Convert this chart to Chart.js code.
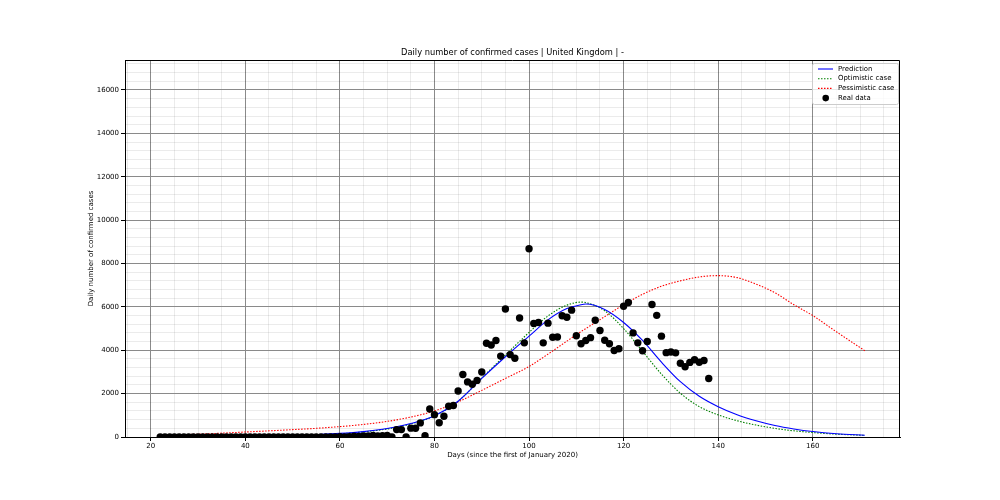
<!DOCTYPE html>
<html>
<head>
<meta charset="utf-8">
<script src="https://cdn.jsdelivr.net/npm/chart.js@4.4.0/dist/chart.umd.min.js"></script>
<style>
    body { margin: 0; background: #fff; }
    #chart { display: block; }
</style>
</head>
<body>
<canvas id="chart" width="1000" height="500"></canvas>
<script>
var chartTitle = 'Daily number of confirmed cases | United Kingdom | -';
var xTitle = 'Days (since the first of January 2020)';
var yTitle = 'Daily number of confirmed cases';

var xTicks = [20, 40, 60, 80, 100, 120, 140, 160];
var yTicks = [0, 2000, 4000, 6000, 8000, 10000, 12000, 14000, 16000];

// real data: one value per day, first day is 22
var realFirstDay = 22;
var realCases = [
    0, 0, 0, 0, 0, 0, 0, 0, 2, 0,
    0, 0, 0, 0, 1, 0, 0, 0, 4, 1,
    0, 0, 0, 0, 0, 0, 0, 0, 0, 0,
    0, 0, 4, 0, 0, 0, 5, 3, 13, 4,
    11, 34, 30, 48, 43, 67, 48, 61, 77, 0,
    342, 342, 0, 407, 400, 650, 63, 1290, 1030, 660,
    960, 1420, 1450, 2120, 2880, 2540, 2430, 2610, 3000, 4320,
    4240, 4450, 3730, 5900, 3800, 3630, 5490, 4340, 8680, 5230,
    5280, 4340, 5250, 4600, 4610, 5590, 5520, 5850, 4670, 4300,
    4450, 4580, 5380, 4910, 4460, 4300, 3990, 4070, 6030, 6200,
    4800, 4340, 3980, 4400, 6110, 5610, 4650, 3890, 3920, 3880,
    3400, 3240, 3440, 3560, 3450, 3530, 2700
];

// model curves
var curveDays   = [22, 30, 40, 50, 55, 60, 65, 70, 75, 80, 85, 90, 95, 100, 104, 108, 111, 112, 116, 120, 124, 128, 132, 136, 140, 144, 148, 152, 156, 160, 165, 171];
var predValues  = [5, 12, 35, 80, 115, 165, 250, 390, 620, 980, 1650, 2700, 3700, 4650, 5400, 5920, 6100, 6130, 5880, 5280, 4450, 3450, 2550, 1880, 1400, 1030, 750, 530, 370, 250, 150, 80];
var optValues   = [3, 8, 25, 65, 100, 150, 235, 370, 600, 970, 1650, 2720, 3780, 4820, 5580, 6080, 6220, 6200, 5820, 5000, 3950, 2900, 2020, 1400, 1020, 750, 550, 395, 285, 205, 130, 75];
var pessValues  = [80, 130, 230, 340, 400, 480, 580, 720, 920, 1200, 1620, 2150, 2700, 3250, 3820, 4420, 4860, 5000, 5550, 6100, 6580, 6950, 7200, 7380, 7440, 7350, 7050, 6650, 6100, 5600, 4850, 3980];

var majorGrid = '#8a8a8a';
var minorGrid = 'rgba(0,0,0,0.08)';

function toPoints(days, values) {
    var pts = [];
    for (var i = 0; i < days.length; i++) {
        pts.push({ x: days[i], y: values[i] });
    }
    return pts;
}

var realPoints = [];
for (var i = 0; i < realCases.length; i++) {
    realPoints.push({ x: realFirstDay + i, y: realCases[i] });
}

function curve(label, color, values, dash, order) {
    return {
        label: label,
        data: toPoints(curveDays, values),
        showLine: true,
        borderColor: color,
        backgroundColor: color,
        borderWidth: 1.1,
        borderDash: dash,
        pointRadius: 0,
        cubicInterpolationMode: 'monotone',
        order: order
    };
}

// title, legend and the top/right spines
var decorations = {
    id: 'decorations',
    afterDraw: function (chart) {
        var ctx = chart.ctx;
        var area = chart.chartArea;
        ctx.save();

        ctx.strokeStyle = '#000';
        ctx.lineWidth = 1;
        ctx.beginPath();
        ctx.moveTo(area.left, area.top + 0.5);
        ctx.lineTo(area.right - 0.5, area.top + 0.5);
        ctx.lineTo(area.right - 0.5, area.bottom);
        ctx.stroke();

        ctx.fillStyle = '#000';
        ctx.font = '8.3px "DejaVu Sans"';
        ctx.textAlign = 'center';
        ctx.textBaseline = 'middle';
        ctx.fillText(chartTitle, (area.left + area.right) / 2, area.top - 7);

        var bx = area.right - 88, by = area.top + 3, bw = 86, bh = 41;
        ctx.fillStyle = 'rgba(255,255,255,0.8)';
        ctx.strokeStyle = '#cccccc';
        ctx.beginPath();
        ctx.roundRect(bx + 0.5, by + 0.5, bw, bh, 2);
        ctx.fill();
        ctx.stroke();

        ctx.font = '6.94px "DejaVu Sans"';
        ctx.textAlign = 'left';
        var ds = chart.data.datasets;
        for (var k = 0; k < ds.length; k++) {
            var ry = by + 6 + k * 9.7;
            if (ds[k].showLine) {
                ctx.strokeStyle = ds[k].borderColor;
                ctx.lineWidth = 1.1;
                ctx.setLineDash(ds[k].borderDash || []);
                ctx.beginPath();
                ctx.moveTo(bx + 6, ry);
                ctx.lineTo(bx + 21, ry);
                ctx.stroke();
                ctx.setLineDash([]);
            } else {
                ctx.fillStyle = ds[k].backgroundColor;
                ctx.beginPath();
                ctx.arc(bx + 13.7, ry, 3.3, 0, Math.PI * 2);
                ctx.fill();
            }
            ctx.fillStyle = '#000';
            ctx.fillText(ds[k].label, bx + 26, ry);
        }
        ctx.restore();
    }
};

Chart.defaults.font.family = '"DejaVu Sans"';
Chart.defaults.color = '#000';

new Chart(document.getElementById('chart'), {
    type: 'scatter',
    data: {
        datasets: [
            curve('Prediction', '#0000ff', predValues, [], 1),
            curve('Optimistic case', '#008000', optValues, [1.5, 1.5], 2),
            curve('Pessimistic case', '#ff0000', pessValues, [1.5, 1.5], 3),
            {
                label: 'Real data',
                data: realPoints,
                backgroundColor: '#000',
                borderWidth: 0,
                pointRadius: 3.7,
                order: 0
            }
        ]
    },
    options: {
        responsive: false,
        animation: false,
        events: [],
        layout: { padding: { left: 80, right: 100, top: 60, bottom: 37 } },
        plugins: {
            legend: { display: false },
            title: { display: false },
            tooltip: { enabled: false }
        },
        scales: {
            x: {
                type: 'linear',
                min: 14.55,
                max: 178.45,
                afterBuildTicks: function (scale) {
                    var t = [];
                    for (var v = 15; v <= 175; v += 5) t.push({ value: v });
                    scale.ticks = t;
                },
                afterFit: function (scale) { scale.height = 26; },
                ticks: {
                    autoSkip: false,
                    maxRotation: 0,
                    padding: 1,
                    font: { size: 7 },
                    callback: function (value) {
                        return xTicks.indexOf(value) >= 0 ? String(value) : '';
                    }
                },
                grid: {
                    tickLength: 4,
                    color: function (c) {
                        return c.tick && xTicks.indexOf(c.tick.value) >= 0 ? majorGrid : minorGrid;
                    },
                    tickColor: function (c) {
                        return c.tick && xTicks.indexOf(c.tick.value) >= 0 ? '#000' : 'rgba(0,0,0,0)';
                    }
                },
                border: { display: true, color: '#000', width: 1 },
                title: { display: true, text: xTitle, font: { size: 7 }, padding: 4 }
            },
            y: {
                type: 'linear',
                min: 0,
                max: 17383,
                afterBuildTicks: function (scale) {
                    var t = [];
                    for (var v = 0; v <= 17200; v += 400) t.push({ value: v });
                    scale.ticks = t;
                },
                afterFit: function (scale) { scale.width = 45; },
                ticks: {
                    autoSkip: false,
                    padding: 2,
                    font: { size: 7 },
                    callback: function (value) {
                        return yTicks.indexOf(value) >= 0 ? String(value) : '';
                    }
                },
                grid: {
                    tickLength: 4,
                    color: function (c) {
                        return c.tick && yTicks.indexOf(c.tick.value) >= 0 ? majorGrid : minorGrid;
                    },
                    tickColor: function (c) {
                        return c.tick && yTicks.indexOf(c.tick.value) >= 0 ? '#000' : 'rgba(0,0,0,0)';
                    }
                },
                border: { display: true, color: '#000', width: 1 },
                title: { display: true, text: yTitle, font: { size: 7 }, padding: 7 }
            }
        }
    },
    plugins: [decorations]
});
</script>
</body>
</html>
